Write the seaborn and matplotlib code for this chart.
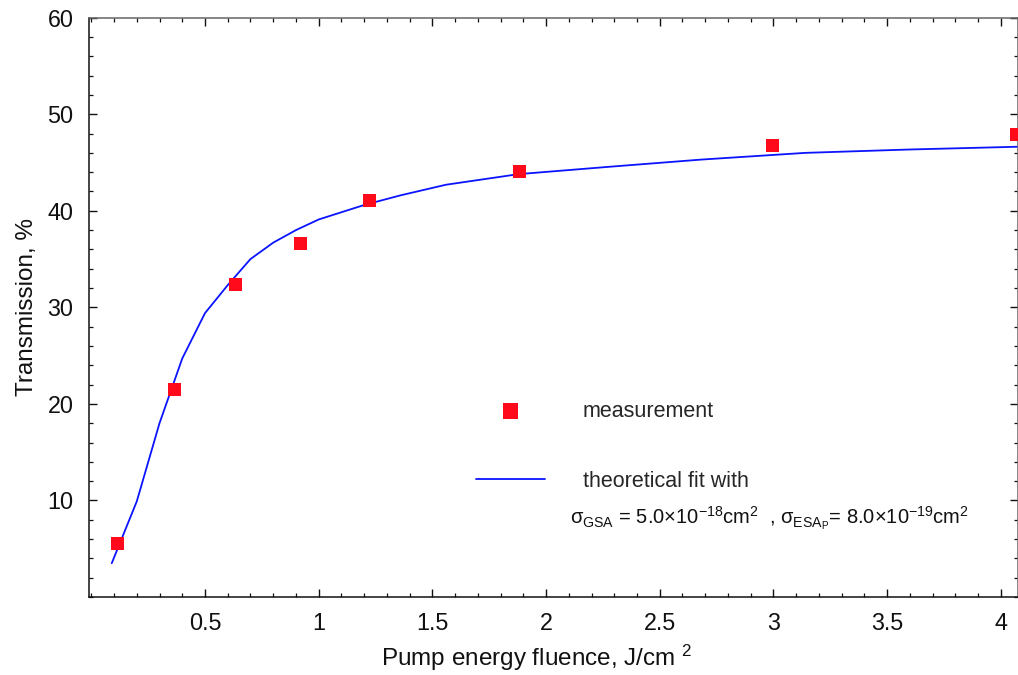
import numpy as np
import pandas as pd
import matplotlib
matplotlib.use("Agg")
import matplotlib.pyplot as plt
from matplotlib.ticker import MultipleLocator, FixedLocator
import seaborn as sns

# measured data
meas_fluence = [0.116, 0.367, 0.633, 0.922, 1.223, 1.882, 2.996, 4.07]
meas_trans = [5.5, 21.5, 32.4, 36.6, 41.1, 44.1, 46.8, 47.9]

# theoretical fit curve
fit_fluence = [0.09, 0.2, 0.3, 0.4, 0.5, 0.6, 0.7, 0.8, 0.9, 1.0, 1.2, 1.36,
               1.56, 1.88, 2.3, 2.68, 3.14, 3.6, 4.1]
fit_trans = [3.5, 9.9, 18.0, 24.7, 29.4, 32.3, 35.0, 36.7, 38.0, 39.1, 40.6,
             41.6, 42.7, 43.8, 44.6, 45.3, 46.0, 46.35, 46.65]

x_ticks = [0.5, 1, 1.5, 2, 2.5, 3, 3.5, 4]
x_tick_labels = ["0.5", "1", "1.5", "2", "2.5", "3", "3.5", "4"]
y_ticks = [10, 20, 30, 40, 50, 60]

sns.set_theme(style="ticks")
plt.rcParams["font.family"] = ["Liberation Sans", "DejaVu Sans"]
plt.rcParams["mathtext.fontset"] = "custom"
plt.rcParams["mathtext.rm"] = "Liberation Sans"
plt.rcParams["mathtext.it"] = "Liberation Sans:italic"
plt.rcParams["mathtext.bf"] = "Liberation Sans:bold"
plt.rcParams["mathtext.sf"] = "Liberation Sans"

W, H = 1018, 675
fig = plt.figure(figsize=(W / 100, H / 100), dpi=100)
L, R, T, B = 88.7, 1018.5, 17.7, 597
ax = fig.add_axes([L / W, (H - B) / H, (R - L) / W, (B - T) / H])

fit_df = pd.DataFrame({"x": fit_fluence, "y": fit_trans})
meas_df = pd.DataFrame({"x": meas_fluence, "y": meas_trans})

sns.lineplot(data=fit_df, x="x", y="y", ax=ax, color="#0a14ff", lw=1.3,
             label="theoretical fit with", sort=False)
sns.scatterplot(data=meas_df, x="x", y="y", ax=ax, marker="s", s=88,
                color="#ff0a1a", edgecolor="none", label="measurement",
                zorder=3)

ax.set_xlim(-0.0114, 4.078)
ax.set_ylim(0, 60)

ax.xaxis.set_major_locator(FixedLocator(x_ticks))
ax.set_xticklabels(x_tick_labels)
ax.xaxis.set_minor_locator(MultipleLocator(0.1))
ax.yaxis.set_major_locator(FixedLocator(y_ticks))
ax.yaxis.set_minor_locator(MultipleLocator(2))

ax.tick_params(which="both", direction="in", top=True, right=True,
               colors="#111111", labelsize=16.8, pad=11)
ax.tick_params(which="major", length=6, width=1.0)
ax.tick_params(which="minor", length=3.2, width=0.9)

for side in ["left", "bottom"]:
    ax.spines[side].set_color("#111111")
    ax.spines[side].set_linewidth(1.1)
for side in ["top", "right"]:
    ax.spines[side].set_color("#666666")
    ax.spines[side].set_linewidth(1.1)

ax.set_xlabel("Pump energy fluence, J/cm $^2$", fontsize=17.5, color="#111111")
ax.set_ylabel("Transmission, %", fontsize=17.5, color="#111111")
ax.xaxis.set_label_coords(0.4813, -0.079)
ax.yaxis.set_label_coords(-0.0546, 0.5)

handles, labels = ax.get_legend_handles_labels()
order = [labels.index("measurement"), labels.index("theoretical fit with")]
leg = ax.legend([handles[i] for i in order], [labels[i] for i in order],
                loc="upper left", bbox_to_anchor=(476 / W, 1 - 400.5 / H),
                bbox_transform=fig.transFigure, frameon=False, borderpad=0,
                fontsize=15.5, handlelength=3.2, handletextpad=1.77,
                labelspacing=2.3, markerscale=1.2, borderaxespad=0)

ax.text((570 - L) / (R - L), (B - 524.5) / (B - T),
        r"σ$_{\rm GSA}$ = 5.0$\times$10$^{-18}$cm$^2$  , "
        r"σ$_{{\rm ESA}_{\rm P}}$= 8.0$\times$10$^{-19}$cm$^2$",
        transform=ax.transAxes, fontsize=14.5, ha="left", va="baseline",
        color="#111111")

fig.savefig("out.png", dpi=100)
